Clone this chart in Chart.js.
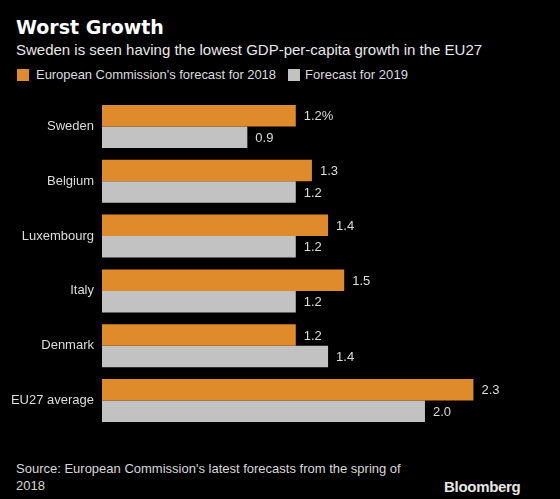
<!DOCTYPE html>
<html>
<head>
<meta charset="utf-8">
<script src="https://cdn.jsdelivr.net/npm/chart.js@4"></script>
<style>
  body { margin: 0; background: #000; width: 560px; height: 499px; overflow: hidden; position: relative; font-family: "Liberation Sans", Arial, sans-serif; }
  .abs { position: absolute; white-space: nowrap; }
  #title { left: 16px; top: 16px; font: bold 19px "DejaVu Sans", sans-serif; color: #fff; }
  #subtitle { left: 16px; top: 41px; font-size: 15px; color: #e8e8e8; }
  .sw { position: absolute; width: 12px; height: 12px; top: 69px; }
  .lg { top: 67px; font-size: 13px; color: #dcdcdc; }
  #source { left: 16px; top: 460px; font-size: 13px; line-height: 17px; color: #d8d8d8; }
  #logo { left: 444px; top: 478px; font: bold 15px "Liberation Sans", Arial, sans-serif; color: #e6e6e6; letter-spacing: -0.3px; }
  #wrap { position: absolute; left: 0; top: 90px; }
</style>
</head>
<body>
<div id="title" class="abs">Worst Growth</div>
<div id="subtitle" class="abs">Sweden is seen having the lowest GDP-per-capita growth in the EU27</div>
<div id="legend"></div>
<div id="wrap"><canvas id="myChart" width="560" height="345"></canvas></div>
<div id="source" class="abs">Source: European Commission's latest forecasts from the spring of<br>2018</div>
<div id="logo" class="abs">Bloomberg</div>
<script>
var categories = ["Sweden", "Belgium", "Luxembourg", "Italy", "Denmark", "EU27 average"];
var forecast2018 = [1.2, 1.3, 1.4, 1.5, 1.2, 2.3];
var forecast2019 = [0.9, 1.2, 1.2, 1.2, 1.4, 2.0];
var seriesLabels = ["European Commission's forecast for 2018", "Forecast for 2019"];

var colours = { orange: '#e08b2b', grey: '#c2c2c2', text: '#dcdcdc' };

// legend built from the series names
var legendPos = [{ box: 17, text: 36, width: 240 }, { box: 288, text: 305, width: 103 }];
var legendColours = [colours.orange, colours.grey];
var legend = document.getElementById('legend');
seriesLabels.forEach(function(name, i) {
  var sw = document.createElement('div');
  sw.className = 'sw';
  sw.style.left = legendPos[i].box + 'px';
  sw.style.background = legendColours[i];
  legend.appendChild(sw);
  var t = document.createElement('div');
  t.className = 'abs lg';
  t.style.left = legendPos[i].text + 'px';
  t.textContent = name;
  legend.appendChild(t);
  // stretch/squeeze the spacing a little so the text ends where the original does
  var w = t.getBoundingClientRect().width;
  t.style.letterSpacing = ((legendPos[i].width - w) / name.length) + 'px';
});

// value labels at the end of each bar
var barLabels = {
  id: 'barLabels',
  afterDatasetsDraw: function(chart) {
    var c = chart.ctx;
    c.save();
    c.font = '13px "Liberation Sans", Arial, sans-serif';
    c.fillStyle = colours.text;
    c.textAlign = 'left';
    c.textBaseline = 'middle';
    chart.data.datasets.forEach(function(ds, d) {
      chart.getDatasetMeta(d).data.forEach(function(bar, i) {
        var txt = ds.data[i].toFixed(1);
        if (d === 0 && i === 0) txt += '%';
        c.fillText(txt, bar.x + 8, bar.y + 1);
      });
    });
    c.restore();
  }
};

var ctx = document.getElementById('myChart').getContext('2d');
var chart = new Chart(ctx, {
  type: 'bar',
  data: {
    labels: categories,
    datasets: [{
      label: seriesLabels[0],
      backgroundColor: colours.orange,
      data: forecast2018
    }, {
      label: seriesLabels[1],
      backgroundColor: colours.grey,
      data: forecast2019
    }]
  },
  options: {
    indexAxis: 'y',
    responsive: false,
    devicePixelRatio: 1,
    animation: false,
    layout: { padding: { left: 0, top: 9, right: 22, bottom: 7 } },
    datasets: { bar: { categoryPercentage: 0.785, barPercentage: 1 } },
    plugins: { legend: { display: false }, tooltip: { enabled: false } },
    scales: {
      x: { display: false, min: 0, max: 2.7 },
      y: {
        grid: { display: false, drawTicks: false },
        border: { display: false },
        ticks: { color: colours.text, padding: 8, font: { size: 13, family: '"Liberation Sans", Arial, sans-serif' } },
        afterFit: function(scale) {
          scale.width = 102;
          scale.paddingTop = 0;
          scale.paddingBottom = 0;
        }
      }
    }
  },
  plugins: [barLabels]
});
</script>
</body>
</html>
